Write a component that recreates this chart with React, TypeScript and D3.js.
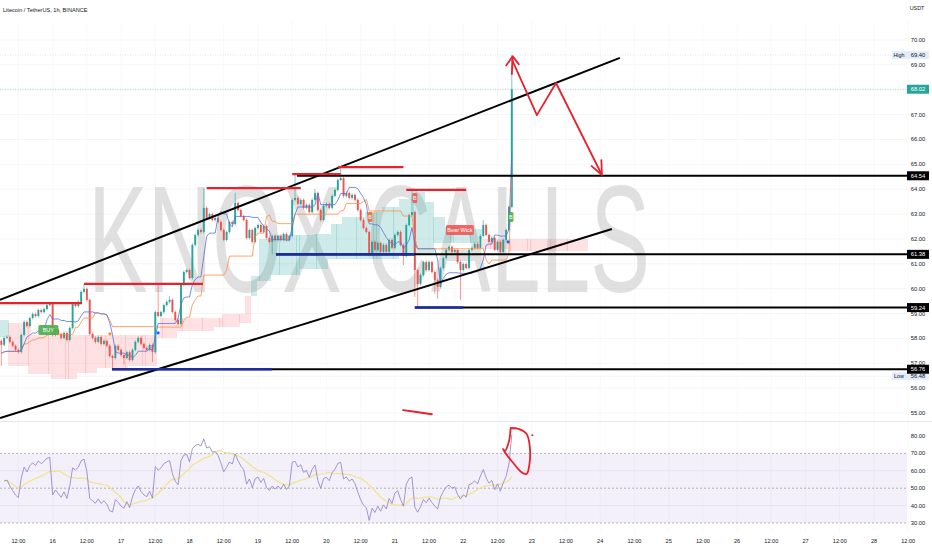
import React from "react";
import * as d3 from "d3";

const W = 932;
const H = 550;
const PLOT_R = 907;
const UP = "#26a69a";
const DOWN = "#ef5350";
const RED = "#e8212e";
const BLUE = "#1f2c9e";
const FONT = "Liberation Sans, Arial, sans-serif";

// hourly candles, first one is 15th 06:00
const FIRST_OPEN = 57.9;
const closes = [
  57.74, 58.02, 58.06, 57.86, 57.7, 57.54, 57.45, 58.14, 58.66, 58.5,
  58.82, 58.98, 58.9, 59.14, 59.06, 59.18, 59.34, 59.38, 58.14, 58.34,
  58.18, 58.02, 58.22, 57.94, 58.42, 59.38, 59.3, 59.47, 59.87, 59.99,
  59.55, 58.18, 58.02, 57.86, 58.06, 57.78, 57.9, 57.7, 57.29, 57.21,
  57.7, 57.54, 57.33, 57.21, 57.45, 57.13, 57.54, 57.86, 58.02, 57.78,
  57.62, 57.54, 57.74, 57.45, 59.06, 58.9, 59.06, 59.34, 59.47, 59.55,
  59.06, 58.74, 58.58, 60.15, 60.67, 60.75, 60.43, 61.76, 62.16, 62.36,
  62.28, 63.25, 62.84, 63.0, 62.76, 62.84, 62.68, 62.36, 61.96, 62.28,
  62.68, 62.6, 63.45, 63.16, 62.92, 62.76, 62.04, 62.36, 61.88, 62.44,
  62.56, 62.28, 62.52, 62.04, 61.88, 62.12, 61.96, 62.12, 61.96, 62.2,
  61.96, 62.12, 63.57, 63.65, 63.41, 63.57, 63.25, 63.37, 63.08, 63.57,
  63.85, 63.16, 62.76, 63.33, 63.41, 63.25, 63.73, 63.97, 64.37, 64.45,
  63.73, 63.85, 63.65, 63.77, 63.57, 63.16, 62.76, 62.44, 62.28, 61.36,
  61.88, 61.56, 61.84, 61.48, 61.76, 61.48, 61.96, 61.64, 62.16, 62.28,
  61.76, 61.31, 62.56, 62.96, 63.08, 60.75, 60.19, 60.55, 61.07, 60.75,
  61.07, 60.67, 60.35, 60.07, 60.83, 61.23, 61.56, 61.68, 61.48, 61.56,
  61.07, 60.75, 60.99, 60.83, 61.56, 61.64, 61.8, 61.64, 62.12, 62.56,
  62.16, 61.88, 62.04, 61.56, 61.88, 61.48, 61.96, 62.36, 63.29, 68.02,
];

// notable wicks [candle index, price]
const HIGHS: [number, number][] = [
  [17, 59.42], [29, 60.19], [55, 60.15], [59, 59.7], [71, 64.04], [82, 63.85],
  [103, 64.61], [110, 64.0], [119, 64.89], [144, 63.97], [169, 62.75], [179, 69.4],
];
const LOWS: [number, number][] = [
  [0, 56.9], [39, 56.76], [43, 56.95], [53, 57.05], [95, 61.38], [141, 60.95],
  [145, 59.67], [146, 59.24], [153, 59.6], [161, 59.55], [152, 59.8],
];

// ichimoku cloud, as steps [index, price]
const spanA: [number, number][] = [
  [0, 58.74], [3, 56.9], [10, 56.55], [18, 56.35], [27, 56.6], [34, 56.8],
  [45, 56.9], [55, 58.0], [62, 58.3], [75, 58.45], [84, 58.6], [88, 60.5],
  [91, 62.0], [96, 62.15], [110, 62.2], [116, 62.6], [120, 62.9], [128, 63.1],
  [134, 63.3], [140, 63.6], [146, 63.9], [149, 63.5], [152, 62.9], [156, 62.5],
  [162, 62.4], [169, 61.6], [178, 61.5], [205, 61.5],
];
const spanB: [number, number][] = [
  [0, 58.06], [3, 58.62], [11, 58.14], [56, 58.82], [78, 59.0], [86, 59.7],
  [90, 60.3], [95, 60.55], [105, 60.8], [115, 61.2], [140, 61.4], [152, 61.85],
  [168, 62.0], [205, 62.0],
];

const priceTicks = [70, 69, 68, 67, 66, 65, 64, 63, 62, 61, 60, 59, 58, 57, 56, 55];
const rsiTicks = [80, 70, 60, 50, 40, 30];
const rsiDashed = [70, 50, 30];
const dayLabels = [16, 17, 18, 19, 20, 21, 22, 23, 24, 25, 26, 27, 28];

const levels = [
  { p: 64.54, from: 103.7 },
  { p: 61.38, from: 96.3 },
  { p: 59.24, from: 145 },
  { p: 56.76, from: 38.8 },
];
const blueLevels = [
  { p: 61.38, from: 96.3, to: 145 },
  { p: 59.24, from: 145, to: 162 },
  { p: 56.76, from: 38.8, to: 95 },
];
const redLevels = [
  { p: 59.42, from: -1, to: 28.3 },
  { p: 60.19, from: 29, to: 70.7 },
  { p: 64.04, from: 72, to: 105 },
  { p: 64.61, from: 102, to: 119 },
  { p: 64.89, from: 118, to: 141 },
  { p: 63.97, from: 142, to: 163 },
];
const channelUp: [number, number][] = [[-0.46, 59.55], [216.9, 69.28]];
const channelDn: [number, number][] = [[-0.46, 54.8], [214.1, 62.4]];

const arrowPath: [number, number][] = [[179.1, 69.2], [187.8, 66.98], [194.5, 68.27], [210.6, 64.57]];
const arrowUp: [number, number][] = [[179.0, 68.6], [179.3, 69.3]];
const arrowUpHead: [number, number][] = [[176.9, 68.95], [179.3, 69.35], [181.6, 69.0]];
const arrowDnHead: [number, number][] = [[206.8, 64.95], [210.6, 64.57], [210.4, 65.2]];
const dash: [number, number][] = [[140.9, 55.12], [145, 55.05], [151, 54.95]];
const rsiLoop: [number, number][] = [
  [178.4, 84.6], [181.5, 84.0], [184.2, 81.2], [185.3, 74], [185.2, 64], [184.2, 58.2],
  [182.2, 59.5], [179.5, 64.5], [177.3, 69], [175.9, 72.5], [176.6, 71.5], [178.0, 77], [178.6, 84.6],
];
const rsiDot: [number, number] = [186.2, 80.5];

const dots = [
  { i: 55, p: 58.22, c: "#2962ff" },
  { i: 38.1, p: 58.18, c: "#ff8a3d" },
  { i: 177.7, p: 61.88, c: "#2962ff" },
];
const tags = [
  { i: 16.5, p: 58.34, text: "BUY", c: "#4caf50", w: 20 },
  { i: 129.3, p: 62.88, text: "B", c: "#f0703a", w: 5 },
  { i: 145, p: 63.65, text: "B", c: "#f05a5a", w: 5 },
  { i: 178.7, p: 62.88, text: "B", c: "#4caf50", w: 5 },
  { i: 160.8, p: 62.36, text: "Bear Wick", c: "#f05a5a", w: 28 },
];

const RSI_LEN = 14;
const RSI_SEED = 0.12;

function stepAt(steps: [number, number][], i: number) {
  let v = steps[0][1];
  for (const [k, val] of steps) if (k <= i) v = val;
  return v;
}

export default function App() {
  const x = d3.scaleLinear().domain([0, 306]).range([1.3, 874]);
  const y = d3.scaleLinear().domain([70, 55]).range([40, 413]);
  const yR = d3.scaleLinear().domain([80, 30]).range([436, 523]);

  const opens = closes.map((c, i) => (i === 0 ? FIRST_OPEN : closes[i - 1]));
  const hiMap = new Map(HIGHS);
  const loMap = new Map(LOWS);
  const highs = closes.map((c, i) => hiMap.get(i) ?? Math.max(c, opens[i]));
  const lows = closes.map((c, i) => loMap.get(i) ?? Math.min(c, opens[i]));

  const mid = (i: number, n: number) => {
    const s = Math.max(0, i - n + 1);
    return (d3.max(highs.slice(s, i + 1))! + d3.min(lows.slice(s, i + 1))!) / 2;
  };
  const tenkan: [number, number][] = closes.map((_, i) => [i, mid(i, 9)]);
  const kijun: [number, number][] = closes.map((_, i) => [i, mid(i, 26)]);

  // RSI (Wilder)
  const rsi: [number, number][] = [];
  let ag = RSI_SEED, al = RSI_SEED;
  for (let i = 1; i < closes.length; i++) {
    const d = closes[i] - closes[i - 1];
    ag = (ag * (RSI_LEN - 1) + Math.max(d, 0)) / RSI_LEN;
    al = (al * (RSI_LEN - 1) + Math.max(-d, 0)) / RSI_LEN;
    rsi.push([i, 100 - 100 / (1 + ag / al)]);
  }
  const rsiMa: [number, number][] = rsi.map((r, k) => {
    const s = rsi.slice(Math.max(0, k - RSI_LEN + 1), k + 1);
    return [r[0], d3.mean(s, (q) => q[1])!];
  });

  const pline = d3.line<[number, number]>().x((d) => x(d[0])).y((d) => y(d[1]));
  const rline = d3.line<[number, number]>().x((d) => x(d[0])).y((d) => yR(d[1]));
  const rloop = d3.line<[number, number]>().x((d) => x(d[0])).y((d) => yR(d[1])).curve(d3.curveCatmullRom);

  const cloudIdx = d3.range(0, 206);

  const timeTicks: { i: number; label: string }[] = [];
  dayLabels.forEach((d, k) => {
    const i = 18 + k * 24;
    timeTicks.push({ i: i - 12, label: "12:00" });
    timeTicks.push({ i, label: String(d) });
  });
  timeTicks.push({ i: 18 + (dayLabels.length - 1) * 24 + 12, label: "12:00" });

  const axisLabel = (text: string, yy: number, bg: string, fg: string) => (
    <g key={text + yy}>
      <rect x={907} y={yy - 4.5} width={22} height={9} fill={bg} />
      <text x={918} y={yy + 2} fontSize={5.8} textAnchor="middle" fill={fg} fontFamily={FONT}>
        {text}
      </text>
    </g>
  );

  return (
    <svg width={W} height={H} style={{ position: "absolute", left: 0, top: 0, background: "#fff" }}>
      <defs>
        <clipPath id="main">
          <rect x={0} y={22} width={PLOT_R} height={399} />
        </clipPath>
        <clipPath id="rsi">
          <rect x={0} y={422} width={PLOT_R} height={110} />
        </clipPath>
      </defs>
      <rect x={0} y={0} width={W} height={H} fill="#fff" />

      {/* grid */}
      {priceTicks.map((p) => (
        <line key={p} x1={0} x2={PLOT_R} y1={y(p)} y2={y(p)} stroke="#f1f3f7" strokeWidth={0.8} />
      ))}
      {timeTicks.map((t) => (
        <line key={"g" + t.i} x1={x(t.i)} x2={x(t.i)} y1={22} y2={532} stroke="#f6f7f9" strokeWidth={0.8} />
      ))}
      <line x1={0} x2={W} y1={421.5} y2={421.5} stroke="#e6e8ee" strokeWidth={1} />

      {/* watermark */}
      <text
        x={88}
        y={292}
        fontSize={152}
        fontFamily={FONT}
        fill="#c8c8c8"
        opacity={0.55}
        textLength={562}
        lengthAdjust="spacingAndGlyphs"
      >
        KNOX CALLS
      </text>

      <g clipPath="url(#main)">
        {/* cloud */}
        {cloudIdx.map((i) => {
          const a = stepAt(spanA, i);
          const b = stepAt(spanB, i);
          return (
            <rect
              key={"c" + i}
              x={x(i - 0.5)}
              width={x(i + 0.5) - x(i - 0.5) + 0.2}
              y={y(Math.max(a, b))}
              height={Math.abs(y(a) - y(b))}
              fill={a >= b ? "#26a69a" : "#f23645"}
              opacity={a >= b ? 0.22 : 0.15}
              shapeRendering="crispEdges"
            />
          );
        })}

        {/* dotted high / last price lines */}
        <line x1={0} x2={PLOT_R} y1={y(69.4)} y2={y(69.4)} stroke="#c9cfdb" strokeWidth={0.6} strokeDasharray="1 1.5" />
        <line x1={0} x2={PLOT_R} y1={y(68.02)} y2={y(68.02)} stroke={UP} strokeWidth={0.6} strokeDasharray="1 1.5" opacity={0.6} />
        <line x1={0} x2={PLOT_R} y1={y(56.48)} y2={y(56.48)} stroke="#c9cfdb" strokeWidth={0.6} strokeDasharray="1 1.5" />

        {/* candles */}
        {closes.map((c, i) => {
          const o = opens[i];
          const col = c >= o ? UP : DOWN;
          const top = y(Math.max(o, c));
          const bot = y(Math.min(o, c));
          const hTop = hiMap.has(i) ? y(hiMap.get(i)!) : top - 1.5;
          const lBot = loMap.has(i) ? y(loMap.get(i)!) : bot + 1.5;
          return (
            <g key={"k" + i}>
              <line x1={x(i)} x2={x(i)} y1={hTop} y2={lBot} stroke={col} strokeWidth={0.6} />
              <rect x={x(i) - 0.95} width={1.9} y={top} height={Math.max(0.8, bot - top)} fill={col} />
            </g>
          );
        })}

        {/* tenkan / kijun */}
        <path d={pline(kijun)!} fill="none" stroke="#ff8c42" strokeWidth={0.8} />
        <path d={pline(tenkan)!} fill="none" stroke="#5b6fe0" strokeWidth={0.8} />

        {/* channel */}
        <path d={pline(channelUp)!} stroke="#000" strokeWidth={2} />
        <path d={pline(channelDn)!} stroke="#000" strokeWidth={2} />

        {/* levels */}
        {levels.map((l) => (
          <line key={"l" + l.p} x1={x(l.from)} x2={PLOT_R} y1={y(l.p)} y2={y(l.p)} stroke="#000" strokeWidth={2} />
        ))}
        {blueLevels.map((l) => (
          <line key={"b" + l.p} x1={x(l.from)} x2={x(l.to)} y1={y(l.p)} y2={y(l.p)} stroke={BLUE} strokeWidth={2.6} />
        ))}
        {redLevels.map((l) => (
          <line key={"r" + l.p} x1={x(l.from)} x2={x(l.to)} y1={y(l.p)} y2={y(l.p)} stroke={RED} strokeWidth={2.2} />
        ))}

        {/* markers */}
        {dots.map((d, k) => (
          <circle key={"d" + k} cx={x(d.i)} cy={y(d.p)} r={1.6} fill={d.c} />
        ))}
        {tags.map((t, k) => (
          <g key={"t" + k}>
            <rect x={x(t.i) - t.w / 2} y={y(t.p) - 5} width={t.w} height={10} rx={1.5} fill={t.c} opacity={0.92} />
            <text x={x(t.i)} y={y(t.p) + 2} fontSize={5.5} textAnchor="middle" fill="#fff" fontFamily={FONT}>
              {t.text}
            </text>
          </g>
        ))}

        {/* hand drawings */}
        <path d={pline(arrowPath)!} fill="none" stroke={RED} strokeWidth={1.8} strokeLinejoin="round" />
        <path d={pline(arrowUp)!} fill="none" stroke={RED} strokeWidth={1.8} />
        <path d={pline(arrowUpHead)!} fill="none" stroke={RED} strokeWidth={1.8} strokeLinejoin="round" />
        <path d={pline(arrowDnHead)!} fill="none" stroke={RED} strokeWidth={1.8} strokeLinejoin="round" />
        <path d={pline(dash)!} fill="none" stroke={RED} strokeWidth={1.8} strokeLinecap="round" />
      </g>

      {/* RSI pane */}
      <g clipPath="url(#rsi)">
        <rect x={0} y={yR(70)} width={PLOT_R} height={yR(30) - yR(70)} fill="#7e57c2" opacity={0.09} />
        {[60, 40].map((v) => (
          <line key={"rg" + v} x1={0} x2={PLOT_R} y1={yR(v)} y2={yR(v)} stroke="#e4def2" strokeWidth={0.8} />
        ))}
        {rsiDashed.map((v) => (
          <line key={"rd" + v} x1={0} x2={PLOT_R} y1={yR(v)} y2={yR(v)} stroke="#9598a1" strokeWidth={0.7} strokeDasharray="2 2" />
        ))}
        <path d={rline(rsiMa)!} fill="none" stroke="#f2e38a" strokeWidth={1.2} />
        <path d={rline(rsi)!} fill="none" stroke="#8c7fc9" strokeWidth={0.8} />
        <path d={rloop(rsiLoop)!} fill="none" stroke={RED} strokeWidth={1.8} />
        <circle cx={x(rsiDot[0])} cy={yR(rsiDot[1])} r={1} fill={RED} />
      </g>

      {/* header */}
      <text x={3} y={12} fontSize={5.6} fill="#131722" fontFamily={FONT}>
        Litecoin / TetherUS, 1h, BINANCE
      </text>
      <text x={917} y={10} fontSize={5.4} textAnchor="middle" fill="#131722" fontFamily={FONT}>
        USDT
      </text>

      {/* price axis */}
      {priceTicks.map((p) => (
        <text key={"pt" + p} x={918} y={y(p) + 2} fontSize={5.8} textAnchor="middle" fill="#131722" fontFamily={FONT}>
          {p.toFixed(2)}
        </text>
      ))}
      {rsiTicks.map((v) => (
        <text key={"rt" + v} x={918} y={yR(v) + 2} fontSize={5.8} textAnchor="middle" fill="#131722" fontFamily={FONT}>
          {v.toFixed(2)}
        </text>
      ))}
      <rect x={892} y={y(69.4) - 4} width={37} height={8} fill="#e3ecf9" />
      <text x={899} y={y(69.4) + 2} fontSize={5.4} textAnchor="middle" fill="#131722" fontFamily={FONT}>High</text>
      <text x={918} y={y(69.4) + 2} fontSize={5.8} textAnchor="middle" fill="#131722" fontFamily={FONT}>69.40</text>
      <rect x={892} y={y(56.48) - 4} width={37} height={8} fill="#e3ecf9" />
      <text x={899} y={y(56.48) + 2} fontSize={5.4} textAnchor="middle" fill="#131722" fontFamily={FONT}>Low</text>
      <text x={918} y={y(56.48) + 2} fontSize={5.8} textAnchor="middle" fill="#131722" fontFamily={FONT}>56.48</text>
      {axisLabel("68.02", y(68.02), UP, "#fff")}
      {levels.map((l) => axisLabel(l.p.toFixed(2), y(l.p), "#000", "#fff"))}

      {/* time axis */}
      {timeTicks.map((t) => (
        <text key={"tt" + t.i} x={x(t.i)} y={543} fontSize={5.6} textAnchor="middle" fill="#131722" fontFamily={FONT}>
          {t.label}
        </text>
      ))}
    </svg>
  );
}
